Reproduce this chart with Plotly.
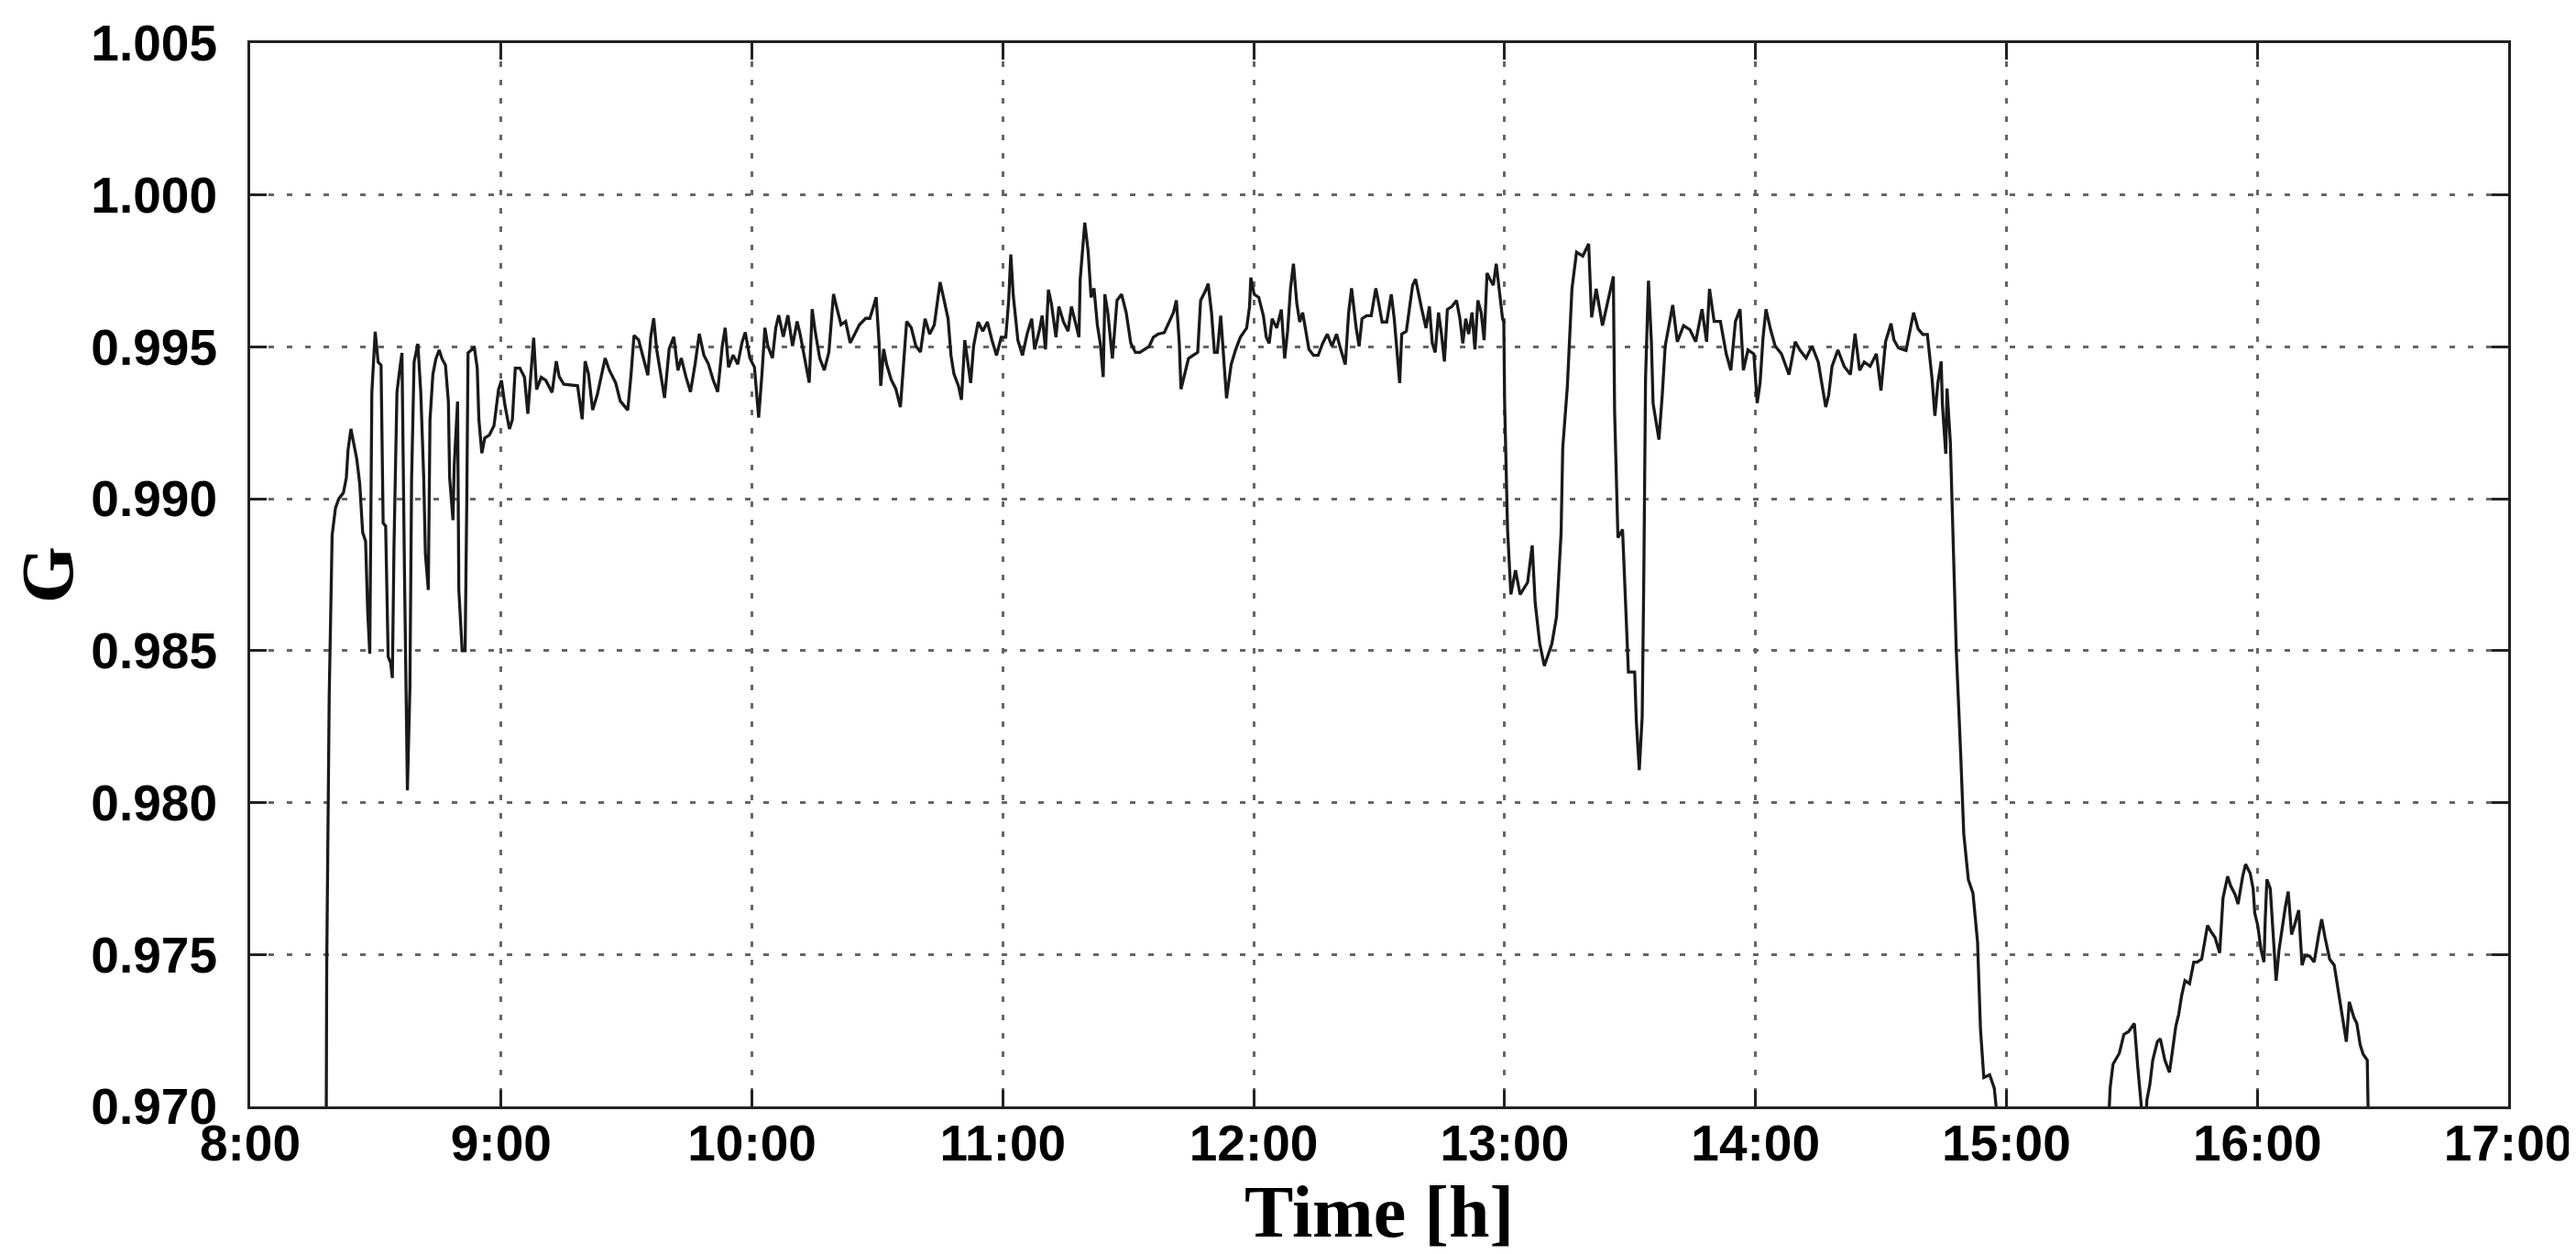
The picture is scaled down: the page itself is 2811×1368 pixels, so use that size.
import plotly.graph_objects as go

# time in minutes after 8:00, G values
t_morning = [18.0, 18.3, 18.9, 19.6, 20.4, 21.2, 22.3, 23.0, 23.4, 24.1, 24.8, 25.5, 26.2, 26.9, 27.6,
             28.1, 28.6, 29.1, 29.9, 30.6, 31.3, 31.8, 32.4, 33.0, 33.6, 34.0, 34.4, 35.1, 35.8, 36.3,
             36.9, 37.6, 38.2, 38.6, 39.2, 40.1, 40.8, 41.5, 41.9, 42.6, 43.0, 43.7, 44.4, 45.2, 45.9,
             46.7, 47.4, 47.7, 48.5, 48.8, 49.6, 49.9, 50.7, 51.4, 51.8, 52.1, 52.9, 53.6, 54.3, 54.7,
             55.4, 56.1, 57.2, 58.3, 59.4, 60.1, 60.9, 62.0, 62.7, 63.4, 64.5, 65.6, 66.4, 67.1, 67.8,
             68.5, 69.6, 70.7, 71.4, 72.2,
             73.2, 73.9, 75.0, 78.3, 79.4, 80.1, 80.9, 81.9, 83.0, 84.1, 84.9, 85.9, 87.4, 88.5, 90.3,
             91.1, 91.8, 92.9, 94.0, 95.1, 95.8, 96.5, 97.2, 98.3, 99.1, 100.2, 101.3, 102.3, 103.1,
             104.2, 105.3, 106.4, 107.4, 108.5, 109.6, 110.7, 111.8, 112.9, 113.6, 114.4, 115.5, 116.6,
             117.6, 118.4, 119.5, 120.6, 121.6, 122.4, 123.1, 123.8, 124.9, 125.7, 126.4, 127.5, 128.6,
             129.7, 130.8, 131.5, 132.6, 133.7, 134.4, 135.1, 136.2, 137.3, 138.4, 139.5, 140.2, 141.3,
             142.4, 143.5, 144.6, 145.7, 147.2, 148.2, 149.3, 149.7, 150.4, 150.8, 151.5, 152.2, 153.3,
             154.4, 155.5, 156.3, 157.0, 158.1, 159.2, 160.3]
g_morning = [0.9600, 0.9745, 0.9835, 0.9888, 0.9897, 0.9900, 0.9902, 0.9907, 0.9916, 0.9923, 0.9918, 0.9913, 0.9905, 0.9889, 0.9886,
             0.9863, 0.9849, 0.9935, 0.9955, 0.9945, 0.9944, 0.9892, 0.9891, 0.9848, 0.9846, 0.9841, 0.9885, 0.9935, 0.9943, 0.9948,
             0.9876, 0.9804, 0.9838, 0.9906, 0.9945, 0.9951, 0.9935, 0.9907, 0.9882, 0.9870, 0.9926, 0.9941, 0.9946, 0.9949, 0.9946,
             0.9944, 0.9932, 0.9907, 0.9893, 0.9911, 0.9932, 0.9870, 0.9850, 0.9850, 0.9899, 0.9948, 0.9949, 0.9950, 0.9943, 0.9926,
             0.9915, 0.9920, 0.9921, 0.9924, 0.9936, 0.9939, 0.9931, 0.9923, 0.9926, 0.9943, 0.9943, 0.9940, 0.9928, 0.9941, 0.9953,
             0.9936, 0.9940, 0.9939, 0.9937, 0.9935,
             0.99453, 0.99402, 0.99377, 0.99372, 0.99262, 0.99453, 0.99412, 0.99292, 0.99342, 0.99412, 0.99463, 0.99423, 0.99382, 0.99322, 0.99292,
             0.99412, 0.99538, 0.99523, 0.99463, 0.99407, 0.99533, 0.99594, 0.99493, 0.99392, 0.99332, 0.99493, 0.99533, 0.99423, 0.99463,
             0.99402, 0.99352, 0.99443, 0.99543, 0.99473, 0.99443, 0.99392, 0.99352, 0.99503, 0.99563, 0.99433, 0.99473, 0.99443,
             0.99513, 0.99548, 0.99463, 0.99433, 0.99267, 0.99412, 0.99563, 0.99503, 0.99463, 0.99563, 0.99604, 0.99533, 0.99604,
             0.99503, 0.99584, 0.99543, 0.99463, 0.99382, 0.99624, 0.99553, 0.99463, 0.99423, 0.99483, 0.99674, 0.99634, 0.99573,
             0.99584, 0.99513, 0.99543, 0.99573, 0.99594, 0.99594, 0.99644, 0.99664, 0.99513, 0.99372, 0.99493, 0.99443, 0.99392,
             0.99362, 0.99302, 0.99443, 0.99584, 0.99563, 0.99503, 0.99483]

t_midday = [161.4, 162.5, 163.6, 164.3, 165.0, 165.8, 166.9, 167.6, 168.3, 169.4, 170.1, 170.9, 171.6, 172.3, 173.0,
            174.1, 175.2, 176.3, 177.4, 178.5, 179.6, 180.7, 181.4, 181.9, 182.5, 183.6, 184.7, 185.8, 186.9, 187.6,
            188.7, 189.4, 190.2, 190.9, 191.6, 192.7, 193.4, 194.5, 195.6, 196.4, 197.5, 198.2, 198.5, 199.6, 200.4,
            201.1, 201.8, 202.6, 203.3, 204.0, 204.4, 205.1, 206.2, 207.3, 208.4, 209.5, 210.6, 211.7, 212.8, 213.9,
            215.0, 216.0, 217.1, 218.6, 219.7, 220.8, 221.5, 222.2, 222.6, 223.3, 224.4, 225.5, 226.6, 227.3, 228.4,
            229.1, 229.9, 230.6, 231.3, 232.1, 232.8, 233.5, 234.6, 235.7, 236.8, 238.3, 239.0, 239.3, 240.1, 241.2,
            242.3, 243.0,
            243.7, 244.4, 245.5, 246.6, 247.4, 248.1, 248.8, 249.5, 250.3, 251.0, 251.7, 252.5, 253.2, 254.3, 255.4,
            256.5, 257.6, 258.7, 259.8, 260.8, 261.9, 262.7, 263.4, 264.5, 265.2, 265.9, 267.0, 268.1, 269.2, 269.9,
            270.7, 271.8, 272.9, 273.6, 274.3, 274.9, 275.4, 276.5, 277.2, 278.0, 278.7, 279.4, 280.2, 281.2, 282.0,
            282.7, 283.4, 284.2, 284.9, 285.6, 286.3, 287.4, 288.5, 289.3, 290.0, 290.7, 291.4, 292.2, 292.9, 293.6,
            294.4, 295.1, 295.8, 296.5, 297.3, 298.0, 298.7, 299.5, 299.8]
g_midday = [0.99593, 0.99542, 0.99572, 0.99643, 0.99713, 0.99663, 0.99593, 0.99472, 0.99411, 0.99371, 0.99326, 0.99522, 0.99452, 0.99381, 0.99502,
            0.99582, 0.99552, 0.99582, 0.99522, 0.99472, 0.99532, 0.99532, 0.99653, 0.99804, 0.99668, 0.99522, 0.99472, 0.99542, 0.99593, 0.99492,
            0.99552, 0.99603, 0.99492, 0.99688, 0.99643, 0.99532, 0.99633, 0.99582, 0.99552, 0.99633, 0.99572, 0.99532, 0.99723, 0.99909, 0.99814,
            0.99663, 0.99693, 0.99572, 0.99512, 0.99401, 0.99673, 0.99613, 0.99462, 0.99653, 0.99673, 0.99613, 0.99512, 0.99482, 0.99482, 0.99492,
            0.99502, 0.99532, 0.99542, 0.99547, 0.99582, 0.99613, 0.99653, 0.99512, 0.99361, 0.99401, 0.99462, 0.99472, 0.99482, 0.99653, 0.99683,
            0.99708, 0.99613, 0.99482, 0.99482, 0.99603, 0.99452, 0.99331, 0.99442, 0.99492, 0.99532, 0.99562, 0.99633, 0.99728, 0.99673, 0.99663,
            0.99603, 0.99532,
            0.99512, 0.99593, 0.99562, 0.99623, 0.99462, 0.99552, 0.99693, 0.99774, 0.99643, 0.99582, 0.99613, 0.99542, 0.99492, 0.99472, 0.99472,
            0.99512, 0.99542, 0.99502, 0.99542, 0.99492, 0.99442, 0.99613, 0.99693, 0.99562, 0.99502, 0.99593, 0.99603, 0.99603, 0.99693, 0.99643,
            0.99582, 0.99582, 0.99673, 0.99593, 0.99462, 0.99381, 0.99542, 0.99552, 0.99623, 0.99703, 0.99723, 0.99673, 0.99623, 0.99562, 0.99633,
            0.99512, 0.99482, 0.99613, 0.99542, 0.99452, 0.99623, 0.99633, 0.99653, 0.99593, 0.99512, 0.99593, 0.99542, 0.99613, 0.99492, 0.99653,
            0.99613, 0.99522, 0.99743, 0.99723, 0.99703, 0.99774, 0.99683, 0.99593, 0.99582]

t_afternoon = [300.0, 300.7, 301.5, 302.6, 303.7, 305.5, 306.6, 307.3, 308.4, 309.5, 311.3, 312.4, 313.5, 313.9, 315.0,
               316.1, 317.2, 318.7, 320.1, 320.8, 321.9, 323.4, 325.2, 326.0, 326.3, 327.1, 328.2, 328.9, 329.6, 331.1,
               331.5, 332.2, 332.9, 333.3, 333.7, 334.4, 335.1, 335.5, 336.9, 337.7, 338.4, 340.2, 341.3, 342.8, 344.3,
               345.7, 347.2, 348.3, 349.0, 350.1, 351.6, 353.0, 354.1, 355.2, 356.3, 357.1, 358.2, 359.6, 360.4, 361.1,
               361.8, 362.5, 363.6, 364.7, 366.2, 368.0, 369.5, 370.6, 372.1, 373.5, 375.0, 376.8, 377.5, 378.3, 379.7,
               381.2, 382.7, 383.8, 384.9, 386.0, 387.4, 388.9, 390.0, 391.1,
               392.4, 393.1, 394.2, 396.0, 397.1, 397.8, 398.9, 400.0, 401.1, 402.2, 402.9, 403.6, 404.4, 404.7, 405.5,
               405.8, 406.6, 407.3, 408.0, 409.1, 409.8, 410.9, 412.0, 413.1, 413.8, 414.6, 416.0, 417.1, 417.9,
               420.0, 425.0, 430.0, 435.0, 440.0, 444.3,
               444.8, 445.5, 447.0, 448.1, 449.2, 450.6, 451.4, 452.1, 452.6, 453.3,
               453.6, 454.3, 455.0, 456.1, 456.8, 457.9, 459.0, 459.7, 460.5, 461.2, 461.9, 462.7, 463.8, 464.8, 465.6,
               466.7, 467.4, 468.1, 468.9, 469.9, 471.0, 471.8, 472.9, 473.6, 474.7, 475.4, 476.5, 477.2, 478.3, 479.0,
               479.4, 480.1, 480.9, 481.6, 481.9, 482.3, 483.1, 483.8, 484.5, 485.2, 485.9, 486.7, 487.4, 488.2, 488.9,
               489.9, 490.7, 491.4, 492.5, 493.6, 494.7, 495.4, 496.2, 497.3, 498.4, 499.1, 500.2, 501.3, 502.0, 503.1,
               503.8, 504.6, 505.3, 506.3, 507.1]
g_afternoon = [0.99315, 0.98899, 0.98685, 0.98765, 0.98685, 0.98725, 0.98846, 0.98658, 0.98523, 0.98450, 0.98523, 0.98611, 0.98886, 0.99168, 0.99369,
               0.99691, 0.99812, 0.99799, 0.99839, 0.99597, 0.99691, 0.99570, 0.99678, 0.99732, 0.99289, 0.98872, 0.98899, 0.98658, 0.98430, 0.98430,
               0.98268, 0.98107, 0.98282, 0.98765, 0.99396, 0.99718, 0.99517, 0.99315, 0.99195, 0.99342, 0.99503, 0.99638, 0.99517, 0.99570, 0.99557,
               0.99517, 0.99624, 0.99517, 0.99691, 0.99584, 0.99584, 0.99477, 0.99423, 0.99584, 0.99624, 0.99423, 0.99490, 0.99477, 0.99315, 0.99383,
               0.99530, 0.99624, 0.99557, 0.99503, 0.99477, 0.99409, 0.99517, 0.99490, 0.99463, 0.99503, 0.99450, 0.99302, 0.99342, 0.99436, 0.99490,
               0.99436, 0.99409, 0.99544, 0.99423, 0.99450, 0.99436, 0.99477, 0.99356, 0.99517,
               0.99577, 0.99523, 0.99496, 0.99488, 0.99559, 0.99613, 0.99559, 0.99541, 0.99541, 0.99398, 0.99273, 0.99380, 0.99452, 0.99309, 0.99148,
               0.99363, 0.99184, 0.98880, 0.98505, 0.98148, 0.97898, 0.97746, 0.97702, 0.97541, 0.97255, 0.97095, 0.97104, 0.97060, 0.96950,
               0.96600, 0.96400, 0.96300, 0.96400, 0.96650, 0.96900,
               0.97060, 0.97139, 0.97175, 0.97237, 0.97246, 0.97273, 0.97132, 0.97040, 0.96950, 0.96950,
               0.97021, 0.97072, 0.97152, 0.97213, 0.97223, 0.97152, 0.97112, 0.97182, 0.97263, 0.97303, 0.97364, 0.97414, 0.97404, 0.97475, 0.97475,
               0.97485, 0.97535, 0.97596, 0.97576, 0.97556, 0.97505, 0.97686, 0.97757, 0.97727, 0.97697, 0.97666, 0.97757, 0.97797, 0.97767, 0.97717,
               0.97636, 0.97596, 0.97515, 0.97475, 0.97616, 0.97747, 0.97717, 0.97576, 0.97414, 0.97515, 0.97586, 0.97656, 0.97707, 0.97566, 0.97596,
               0.97646, 0.97465, 0.97495, 0.97495, 0.97475, 0.97566, 0.97616, 0.97556, 0.97485, 0.97465, 0.97404, 0.97314, 0.97213, 0.97344, 0.97293,
               0.97273, 0.97203, 0.97172, 0.97152, 0.96500]

x_tick_vals = [0, 60, 120, 180, 240, 300, 360, 420, 480, 540]
x_tick_labels = ["8:00", "9:00", "10:00", "11:00", "12:00", "13:00", "14:00", "15:00", "16:00", "17:00"]
y_tick_vals = [0.970, 0.975, 0.980, 0.985, 0.990, 0.995, 1.000, 1.005]
y_tick_labels = ["0.970", "0.975", "0.980", "0.985", "0.990", "0.995", "1.000", "1.005"]

t_all = t_morning + t_midday + t_afternoon
g_all = g_morning + g_midday + g_afternoon

fig = go.Figure()
fig.add_trace(go.Scatter(x=t_all, y=g_all, mode="lines",
                         line=dict(color="#1a1a1a", width=3.3, shape="linear"),
                         showlegend=False))

tick_font = dict(family="Liberation Sans, Arial, sans-serif", size=55, color="black", weight="bold")
title_font = dict(family="Liberation Serif, Times New Roman, serif", size=80, color="black", weight="bold")

fig.update_layout(
    width=2811, height=1368,
    margin=dict(l=265, r=82, t=39, b=169),
    paper_bgcolor="white", plot_bgcolor="white",
)
fig.update_xaxes(
    range=[0, 540], tickmode="array", tickvals=x_tick_vals, ticktext=x_tick_labels,
    tickfont=tick_font, ticks="inside", ticklen=18, tickwidth=3, tickcolor="#222",
    showline=True, linecolor="#222", linewidth=3, mirror="ticks",
    showgrid=True, gridcolor="#666", gridwidth=2.5, griddash="6px,14px",
    zeroline=False, ticklabelstandoff=-10, automargin=False,
    title=dict(text="Time [h]", font=title_font, standoff=0),
)
fig.update_yaxes(
    range=[0.970, 1.005], tickmode="array", tickvals=y_tick_vals, ticktext=y_tick_labels,
    tickfont=tick_font, ticks="inside", ticklen=18, tickwidth=3, tickcolor="#222",
    showline=True, linecolor="#222", linewidth=3, mirror="ticks",
    showgrid=True, gridcolor="#666", gridwidth=2.5, griddash="6px,14px",
    zeroline=False, ticklabelstandoff=22, automargin=False,
    title=dict(text="G", font=title_font, standoff=28),
)

fig.write_html("out.html")
